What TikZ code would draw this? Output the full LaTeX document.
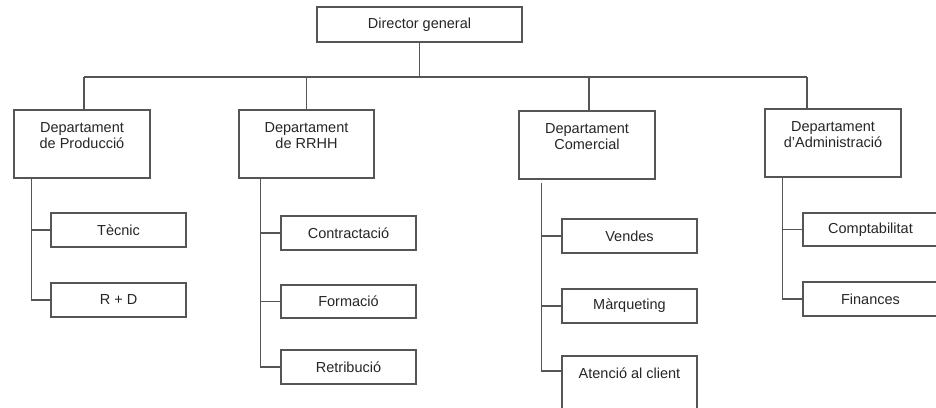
\documentclass[tikz,border=0pt]{standalone}
\usepackage{fontspec}
\setmainfont{Liberation Sans}
\usetikzlibrary{calc}
\definecolor{ln}{HTML}{555555}
\definecolor{tx}{HTML}{262626}
\begin{document}
\begin{tikzpicture}[x=1pt,y=-1pt,
  box/.style={draw=ln,line width=1.2pt,rectangle,inner sep=0pt,minimum width=135pt,minimum height=34pt,
    font=\fontsize{14.5}{16}\selectfont,text=tx,align=center},
  shell/.style={draw=ln,line width=1.2pt,rectangle,inner sep=0pt,minimum width=136pt,minimum height=68pt},
  lbl/.style={inner sep=0pt,font=\fontsize{14.5}{16}\selectfont,text=tx,align=center},
  conn/.style={draw=ln,line width=1.2pt}]
\useasboundingbox (0,0) rectangle (936,407);
\clip (0,0) rectangle (936,407);
\fill[white] (0,0) rectangle (936,407);
% top
\node[box,minimum width=205pt,minimum height=35pt] (dir) at (419.5,24.5) {Director general};
% departments
\node[shell] (prod) at (82,144) {};
\node[shell,minimum width=135pt] (rrhh) at (306.5,144) {};
\node[shell] (com) at (587,145) {};
\node[shell] (adm) at (833,143) {};
\node[lbl] (tprod) at (82,136) {Departament\\de Producció};
\node[lbl] (trrhh) at (306.5,136) {Departament\\de RRHH};
\node[lbl] (tcom) at (587,137) {Departament\\Comercial};
\node[lbl] (tadm) at (833,135) {Departament\\d’Administració};
% children
\node[box] (tec) at (118.5,230) {Tècnic};
\node[box] (rd) at (118.5,300) {R + D};
\node[box] (con) at (348.5,233) {Contractació};
\node[box,minimum height=33pt] (form) at (348.5,301.5) {Formació};
\node[box] (ret) at (348.5,367) {Retribució};
\node[box] (ven) at (629.5,236) {Vendes};
\node[box] (mar) at (629.5,306) {Màrqueting};
\node[box,minimum height=70pt] (ate) at (629.5,391) {};
\node[lbl] (tate) at (629.5,373) {Atenció al client};
\node[box,minimum height=33pt] (comp) at (870.5,229.5) {Comptabilitat};
\node[box] (fin) at (870.5,299) {Finances};
% bus
\coordinate (bus) at (0,77);
\coordinate (admdrop) at ([xshift=-26pt]adm.north);
\draw[conn] (dir.south) -- (dir.south |- bus);
\draw[conn] ([xshift=2pt]prod.north |- bus) -- (admdrop |- bus);
\draw[conn] ([xshift=2pt]prod.north) -- ([xshift=2pt]prod.north |- bus);
\draw[conn] (rrhh.north) -- (rrhh.north |- bus);
\draw[conn] ([xshift=2pt]com.north) -- ([xshift=2pt]com.north |- bus);
\draw[conn] (admdrop) -- (admdrop |- bus);
% trunks
\coordinate (ptr) at ($(prod.south west)+(18,0)$);
\coordinate (rtr) at ($(rrhh.south west)+(22,0)$);
\coordinate (ctr) at ($(com.south west)+(23,3)$);
\coordinate (atr) at ($(adm.south west)+(18,0)$);
\draw[conn] (ptr) |- (rd.west);
\draw[conn] (tec.west) -- (tec.west -| ptr);
\draw[conn] (rtr) |- (ret.west);
\draw[conn] (con.west) -- (con.west -| rtr);
\draw[conn] (form.west) -- (form.west -| rtr);
\draw[conn] (ctr) |- ([yshift=20pt]ate.west);
\draw[conn] (ven.west) -- (ven.west -| ctr);
\draw[conn] (mar.west) -- (mar.west -| ctr);
\draw[conn] (atr) |- (fin.west);
\draw[conn] (comp.west) -- (comp.west -| atr);
\end{tikzpicture}
\end{document}
